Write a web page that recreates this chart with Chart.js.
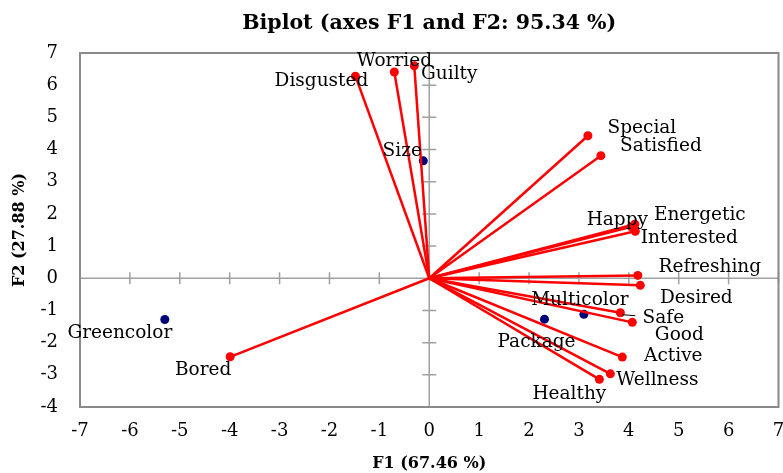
<!DOCTYPE html>
<html><head><meta charset="utf-8">
<script src="https://cdn.jsdelivr.net/npm/chart.js@4/dist/chart.umd.min.js"></script>
<style>html,body{margin:0;padding:0;background:#fff}#wrap{width:783px;height:473px}</style>
</head><body><div id="wrap"><canvas id="c" width="783" height="473"></canvas></div>
<script>
// ---- data ----
const attributes = ['Disgusted','Worried','Guilty','Special','Satisfied','Happy','Energetic','Interested','Refreshing','Desired','Safe','Good','Active','Wellness','Healthy','Bored'];
const attrF1 = [-1.48,-0.70,-0.30,3.18,3.44,4.05,4.12,4.13,4.18,4.23,3.83,4.07,3.87,3.63,3.41,-3.99];
const attrF2 = [6.28,6.41,6.60,4.43,3.81,1.60,1.68,1.46,0.09,-0.22,-1.07,-1.37,-2.45,-2.97,-3.14,-2.44];
const objects = ['Size','Multicolor','Package','Greencolor'];
const objF1 = [-0.12,3.10,2.31,-5.30];
const objF2 = [3.65,-1.12,-1.27,-1.28];
const xTickValues = [-7,-6,-5,-4,-3,-2,-1,0,1,2,3,4,5,6,7];
const yTickValues = [-4,-3,-2,-1,0,1,2,3,4,5,6,7];

// ---- label placement (pixel offsets from the point) ----
const attrLabelOffsets = [[-34,5],[0,-11],[35,8],[54,-8],[60,-9],[-14,-7],[65,-9],[54,7],[72,-8],[56,13],[43,5],[47,13],[51,-1],[47,6],[-30,15],[-27,13]];
const objLabelOffsets = [[-21,-10],[-4,-14],[-8,23],[-45,14]];

const SERIF = '"DejaVu Serif", serif';
const RED = '#ff0000';
const NAVY = '#00007a';

const datasets = attributes.map((name, i) => ({
  label: name,
  data: [{x:0, y:0}, {x: attrF1[i], y: attrF2[i]}],
  showLine: true,
  borderColor: RED,
  borderWidth: 2.5,
  pointRadius: [0, 4.5],
  pointHoverRadius: [0, 4.5],
  pointBackgroundColor: RED,
  pointBorderWidth: 0,
  order: 1
}));
datasets.push({
  label: 'Objects',
  data: objects.map((n, i) => ({x: objF1[i], y: objF2[i]})),
  showLine: false,
  pointRadius: 4.5,
  pointBackgroundColor: NAVY,
  pointBorderWidth: 0,
  order: 2
});

const frameAndLabels = {
  id: 'frameAndLabels',
  beforeDatasetsDraw(chart) {
    const {ctx, chartArea: a, scales: {x, y}} = chart;
    ctx.save();
    const x0 = x.getPixelForValue(0), y0 = y.getPixelForValue(0);
    ctx.strokeStyle = '#a0a0a0';
    ctx.lineWidth = 1.5;
    ctx.beginPath();
    ctx.moveTo(a.left, y0); ctx.lineTo(a.right, y0);
    ctx.moveTo(x0, a.top); ctx.lineTo(x0, a.bottom);
    xTickValues.forEach(v => { const p = x.getPixelForValue(v); ctx.moveTo(p, y0 - 6); ctx.lineTo(p, y0 + 6); });
    yTickValues.forEach(v => { const p = y.getPixelForValue(v); ctx.moveTo(x0 - 7, p); ctx.lineTo(x0 + 7, p); });
    ctx.stroke();
    ctx.strokeStyle = '#8a8a8a';
    ctx.lineWidth = 2;
    ctx.strokeRect(a.left, a.top, a.right - a.left, a.bottom - a.top);
    ctx.restore();
  },
  afterDatasetsDraw(chart) {
    const {ctx, scales: {x, y}} = chart;
    ctx.save();
    ctx.font = '18.5px ' + SERIF;
    ctx.fillStyle = '#000';
    ctx.textAlign = 'center';
    ctx.textBaseline = 'middle';
    attributes.forEach((n, i) => {
      const px = x.getPixelForValue(attrF1[i]), py = y.getPixelForValue(attrF2[i]);
      ctx.fillText(n, px + attrLabelOffsets[i][0], py + attrLabelOffsets[i][1]);
      if (n === 'Safe') {
        ctx.strokeStyle = '#000'; ctx.lineWidth = 1;
        ctx.beginPath(); ctx.moveTo(px + 2, py + 2); ctx.lineTo(px + 15, py + 3); ctx.stroke();
      }
    });
    objects.forEach((n, i) => {
      const px = x.getPixelForValue(objF1[i]), py = y.getPixelForValue(objF2[i]);
      ctx.fillText(n, px + objLabelOffsets[i][0], py + objLabelOffsets[i][1]);
    });
    ctx.restore();
  }
};

new Chart(document.getElementById('c'), {
  type: 'scatter',
  data: { datasets },
  options: {
    responsive: false,
    devicePixelRatio: 1,
    animation: false,
    events: [],
    layout: { padding: { top: 0, right: 4, left: 0, bottom: 0 } },
    plugins: {
      legend: { display: false },
      tooltip: { enabled: false },
      title: {
        display: true,
        fullSize: false,
        text: 'Biplot (axes F1 and F2: 95.34 %)',
        color: '#000',
        font: { family: SERIF, size: 20.5, weight: 'bold', lineHeight: 1.2 },
        padding: { top: 11, bottom: 17.4 }
      }
    },
    scales: {
      x: {
        type: 'linear', min: -7, max: 7,
        afterBuildTicks: s => { s.ticks = xTickValues.map(v => ({value: v})); },
        ticks: { color: '#000', font: { family: SERIF, size: 18 }, padding: 14, maxRotation: 0, autoSkip: false },
        grid: { display: false, drawTicks: false },
        border: { display: false },
        title: { display: true, text: 'F1 (67.46 %)', color: '#000', font: { family: SERIF, size: 16, weight: 'bold' }, padding: { top: 2, bottom: 0 } },
        afterFit: s => { s.height = 66; s.paddingLeft = 0; s.paddingRight = 0; }
      },
      y: {
        type: 'linear', min: -4, max: 7,
        afterBuildTicks: s => { s.ticks = yTickValues.map(v => ({value: v})); },
        ticks: { color: '#000', font: { family: SERIF, size: 18 }, padding: 22, autoSkip: false },
        grid: { display: false, drawTicks: false },
        border: { display: false },
        title: { display: true, text: 'F2 (27.88 %)', color: '#000', font: { family: SERIF, size: 16, weight: 'bold' }, padding: { top: 10, bottom: 0 } },
        afterFit: s => { s.width = 80; s.paddingTop = 0; s.paddingBottom = 0; }
      }
    }
  },
  plugins: [frameAndLabels]
});
</script>
</body></html>
